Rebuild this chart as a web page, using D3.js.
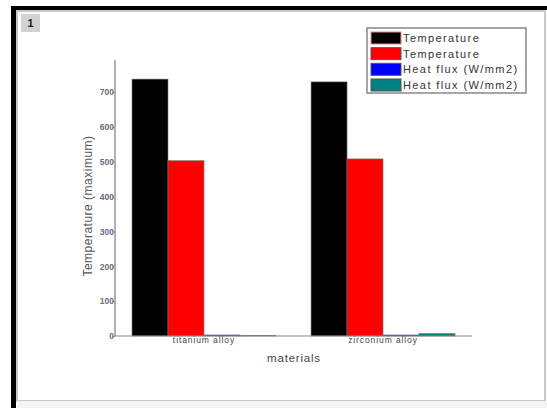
<!DOCTYPE html>
<html>
<head>
<meta charset="utf-8">
<script src="https://cdn.jsdelivr.net/npm/d3@7"></script>
<style>
  body { margin: 0; background: #fff; }
  svg { display: block; font-family: "Liberation Sans", Arial, sans-serif; }
</style>
</head>
<body>
<svg id="drawing_region"></svg>
<script>
const materials = ["titanium alloy", "zirconium alloy"];
const seriesNames = ["Temperature", "Temperature", "Heat flux (W/mm2)", "Heat flux (W/mm2)"];
const seriesColors = ["#000000", "#ff0000", "#0000ff", "#008080"];
const temperature1 = [737, 729];
const temperature2 = [503, 508];
const heatFlux1 = [3, 3];
const heatFlux2 = [2, 7];
const yTicks = [0, 100, 200, 300, 400, 500, 600, 700];

// rows: material -> values by series
const table = materials.map((m, i) => ({
    material: m,
    values: [temperature1[i], temperature2[i], heatFlux1[i], heatFlux2[i]]
}));

class GroupedBar {
    constructor( config, data ) {
        this.config = {
            parent: config.parent,
            width: config.width || 547,
            height: config.height || 408,
            margin: config.margin
        }
        this.data = data;
        this.init();
    }

    init(){
        let self = this;
        self.svg = d3.select( self.config.parent )
            .attr('width', self.config.width)
            .attr('height', self.config.height);

        // outer window frame
        self.svg.append('rect').attr('x', 11).attr('y', 6).attr('width', 536).attr('height', 4).attr('fill', '#000');
        self.svg.append('rect').attr('x', 11).attr('y', 6).attr('width', 5).attr('height', 402).attr('fill', '#000');
        self.svg.append('rect').attr('x', 17).attr('y', 11).attr('width', 528).attr('height', 390)
            .attr('fill', '#fff').attr('stroke', '#c8c8c8').attr('stroke-width', 2);
        self.svg.append('rect').attr('x', 17).attr('y', 401).attr('width', 530).attr('height', 7).attr('fill', '#f4f4f4');
        self.svg.append('rect').attr('x', 21).attr('y', 14).attr('width', 19).attr('height', 18).attr('fill', '#d2d2d2');
        self.svg.append('text').attr('x', 30.5).attr('y', 27).attr('text-anchor', 'middle')
            .attr('font-size', 11).attr('font-weight', 'bold').attr('fill', '#222').text('1');

        const m = self.config.margin;
        self.chart = self.svg.append('g');

        self.xscale = d3.scaleBand()
            .domain(materials)
            .range([m.left, m.right])
            .paddingInner(0.196)
            .paddingOuter(0.095);

        self.xsub = d3.scaleBand()
            .domain(d3.range(seriesNames.length))
            .range([0, self.xscale.bandwidth()]);

        self.yscale = d3.scaleLinear()
            .domain([0, 700])
            .range([m.bottom, 92]);
    }

    update(){
      let self = this;
      self.render();
    }

    render(){
      let self = this;
      const m = self.config.margin;

      // bars
      self.chart.selectAll('g.group')
          .data(self.data)
          .join('g')
          .attr('class', 'group')
          .attr('transform', d => `translate(${self.xscale(d.material)},0)`)
          .selectAll('rect')
          .data(d => d.values)
          .join('rect')
          .attr('x', (d, i) => self.xsub(i))
          .attr('y', d => self.yscale(d))
          .attr('width', self.xsub.bandwidth())
          .attr('height', d => self.yscale(0) - self.yscale(d))
          .attr('fill', (d, i) => seriesColors[i])
          .attr('stroke', '#777')
          .attr('stroke-width', 0.6);

      // y axis
      const yAxis = self.chart.append('g')
          .attr('transform', `translate(${m.left},0)`)
          .call(d3.axisLeft(self.yscale).tickValues(yTicks).tickSize(3).tickSizeOuter(0));
      yAxis.select('.domain').remove();
      yAxis.append('line').attr('x1', 0).attr('x2', 0).attr('y1', 60).attr('y2', m.bottom)
          .attr('stroke', '#999').attr('stroke-width', 1.5);
      yAxis.selectAll('.tick line').attr('stroke', '#999');
      yAxis.selectAll('.tick text').attr('font-size', 8.5).attr('fill', '#6a6a80').attr('x', -1)
          .attr('font-weight', 'bold')
          .attr('font-family', '"Liberation Sans", Arial, sans-serif');

      // x axis
      const xAxis = self.chart.append('g')
          .attr('transform', `translate(0,${m.bottom})`)
          .call(d3.axisBottom(self.xscale).tickSize(0).tickSizeOuter(0));
      xAxis.select('.domain').remove();
      xAxis.append('line').attr('x1', m.left).attr('x2', 472).attr('y1', 0).attr('y2', 0)
          .attr('stroke', '#888').attr('stroke-width', 1.2);
      xAxis.selectAll('.tick text').attr('font-size', 8.5).attr('fill', '#444').attr('dy', '0.5em')
          .attr('letter-spacing', 0.9)
          .attr('font-family', '"Liberation Sans", Arial, sans-serif');

      // axis titles
      self.svg.append('text')
          .attr('transform', 'translate(92,206) rotate(-90)')
          .attr('text-anchor', 'middle')
          .attr('font-size', 12).attr('fill', '#555').attr('letter-spacing', 0.5)
          .text('Temperature (maximum)');
      self.svg.append('text')
          .attr('x', 294).attr('y', 362)
          .attr('text-anchor', 'middle')
          .attr('font-size', 11.5).attr('fill', '#444').attr('letter-spacing', 0.8)
          .text('materials');

      // legend
      const lg = self.svg.append('g');
      lg.append('rect').attr('x', 367).attr('y', 28).attr('width', 159).attr('height', 65)
          .attr('fill', '#fff').attr('stroke', '#888').attr('stroke-width', 1.5);
      const rowY = d3.scalePoint().domain(d3.range(seriesNames.length)).range([38, 85]);
      const items = lg.selectAll('g.item')
          .data(seriesNames)
          .join('g')
          .attr('class', 'item')
          .attr('transform', (d, i) => `translate(0,${rowY(i)})`);
      items.append('rect').attr('x', 371).attr('y', -6).attr('width', 30).attr('height', 12)
          .attr('fill', (d, i) => seriesColors[i])
          .attr('stroke', (d, i) => i === 0 ? '#e88' : '#555').attr('stroke-width', 1);
      items.append('text').attr('x', 403).attr('y', 4)
          .attr('font-size', 11).attr('fill', '#333').attr('letter-spacing', 1.4)
          .text(d => d);
    }
}

const chart = new GroupedBar({
    parent: '#drawing_region',
    width: 547,
    height: 408,
    margin: { left: 115, right: 472, bottom: 336 }
}, table);
chart.update();
</script>
</body>
</html>
